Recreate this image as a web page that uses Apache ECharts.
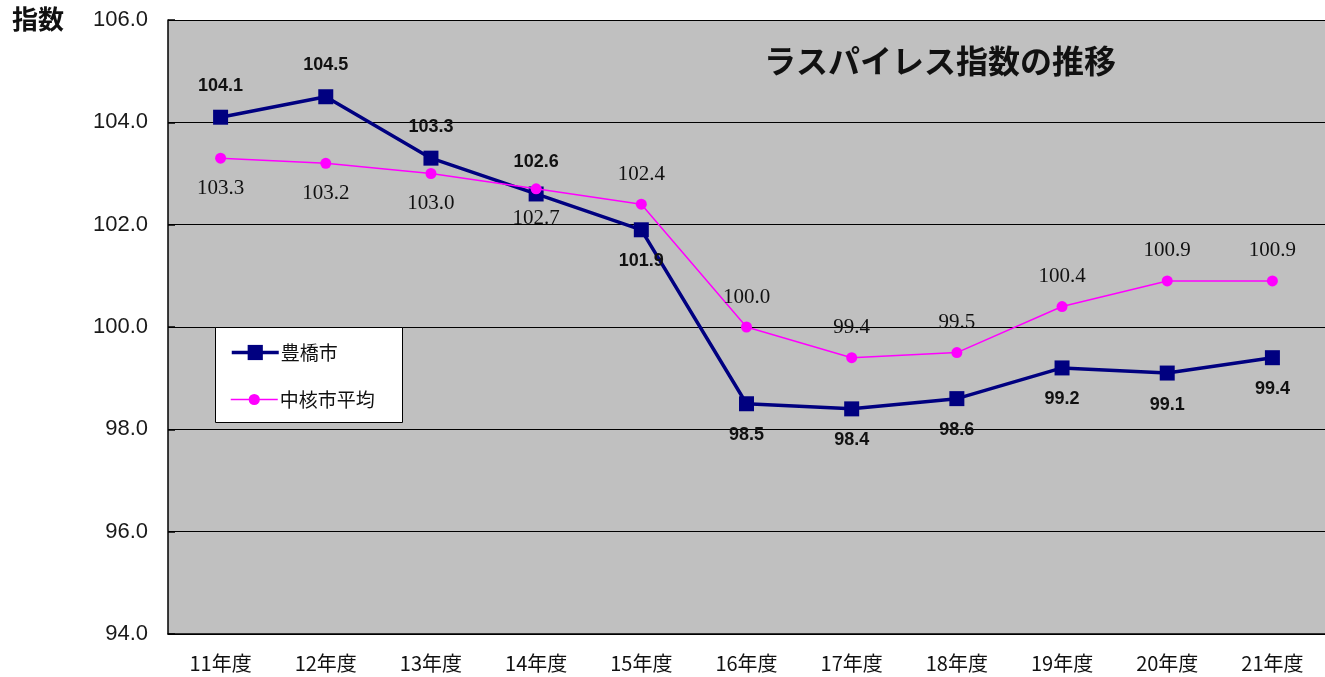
<!DOCTYPE html>
<html>
<head>
<meta charset="utf-8">
<script src="https://cdn.jsdelivr.net/npm/echarts@6/dist/echarts.min.js"></script>
<style>
html,body{margin:0;padding:0;background:#fff;}
#main{width:1325px;height:677px;}
</style>
</head>
<body>
<div id="main"></div>
<script>
const categories = ['11年度','12年度','13年度','14年度','15年度','16年度','17年度','18年度','19年度','20年度','21年度'];
const toyohashi = [104.1, 104.5, 103.3, 102.6, 101.9, 98.5, 98.4, 98.6, 99.2, 99.1, 99.4];
const chukakuAvg = [103.3, 103.2, 103.0, 102.7, 102.4, 100.0, 99.4, 99.5, 100.4, 100.9, 100.9];
const toyohashiLabelSide = ['top','top','top','top','bottom','bottom','bottom','bottom','bottom','bottom','bottom'];
const chukakuLabelSide = ['bottom','bottom','bottom','bottom','top','top','top','top','top','top','top'];
const yTicks = { min: 94, max: 106, interval: 2 };

const chart = echarts.init(document.getElementById('main'));
const CJK = '"Noto Sans CJK JP", "Noto Sans", sans-serif';

function withLabels(values, sides) {
  return values.map((v, i) => ({ value: v, label: { position: sides[i] } }));
}

const legendCommon = {
  orient: 'vertical',
  left: 230,
  padding: 0,
  itemWidth: 47,
  z: 6,
  lineStyle: { width: 'inherit' },
  textStyle: { fontFamily: CJK, fontSize: 19, color: '#111', padding: [0, 0, 0, -3] }
};

chart.setOption({
  animation: false,
  backgroundColor: '#ffffff',
  title: [
    {
      text: 'ラスパイレス指数の推移',
      left: 764, top: 45, padding: 0,
      textStyle: { fontFamily: CJK, fontSize: 32, fontWeight: 'bold', color: '#111' }
    },
    {
      text: '指数',
      left: 12, top: 6, padding: 0,
      textStyle: { fontFamily: CJK, fontSize: 26, fontWeight: 'bold', color: '#111' }
    }
  ],
  graphic: [
    {
      type: 'rect', z: 5,
      shape: { x: 215.5, y: 327.5, width: 187, height: 95 },
      style: { fill: '#ffffff', stroke: '#000', lineWidth: 1 }
    }
  ],
  legend: [
    Object.assign({}, legendCommon, { top: 343, itemHeight: 19, data: ['豊橋市'] }),
    Object.assign({}, legendCommon, { top: 390, itemHeight: 14, data: ['中核市平均'] })
  ],
  grid: { left: 168, top: 20, right: -12, bottom: 43, show: true, backgroundColor: '#c0c0c0', borderWidth: 0 },
  xAxis: {
    type: 'category',
    data: categories,
    boundaryGap: true,
    axisLine: { lineStyle: { color: '#000', width: 1.5 } },
    axisTick: { inside: true, length: 6, lineStyle: { color: '#000', width: 1.5 } },
    axisLabel: { margin: 19, fontFamily: CJK, fontSize: 20, color: '#111' },
    splitLine: { show: false }
  },
  yAxis: {
    type: 'value',
    min: yTicks.min, max: yTicks.max, interval: yTicks.interval,
    axisLine: { show: true, lineStyle: { color: '#000', width: 1.5 } },
    axisTick: { show: true, inside: true, length: 7, lineStyle: { color: '#000', width: 1.5 } },
    axisLabel: {
      margin: 20, fontFamily: '"Liberation Sans", Arial, sans-serif', fontSize: 22, color: '#1a1a1a',
      formatter: v => v.toFixed(1)
    },
    splitLine: { show: true, lineStyle: { color: '#000', width: 1.2 } }
  },
  series: [
    {
      name: '中核市平均',
      type: 'line',
      data: withLabels(chukakuAvg, chukakuLabelSide),
      symbol: 'circle',
      symbolSize: 11,
      lineStyle: { color: '#ff00ff', width: 1.5 },
      itemStyle: { color: '#ff00ff' },
      label: {
        show: true, distance: 14,
        fontFamily: '"Liberation Serif", "DejaVu Serif", serif', fontSize: 21, color: '#111',
        formatter: p => p.value.toFixed(1)
      },
      z: 3
    },
    {
      name: '豊橋市',
      type: 'line',
      data: withLabels(toyohashi, toyohashiLabelSide),
      symbol: 'rect',
      symbolSize: 15,
      lineStyle: { color: '#000080', width: 3.5 },
      itemStyle: { color: '#000080' },
      label: {
        show: true, distance: 15,
        fontFamily: '"Liberation Sans", Arial, sans-serif', fontSize: 18, fontWeight: 'bold', color: '#111',
        formatter: p => p.value.toFixed(1)
      },
      z: 2
    }
  ]
});
</script>
</body>
</html>
